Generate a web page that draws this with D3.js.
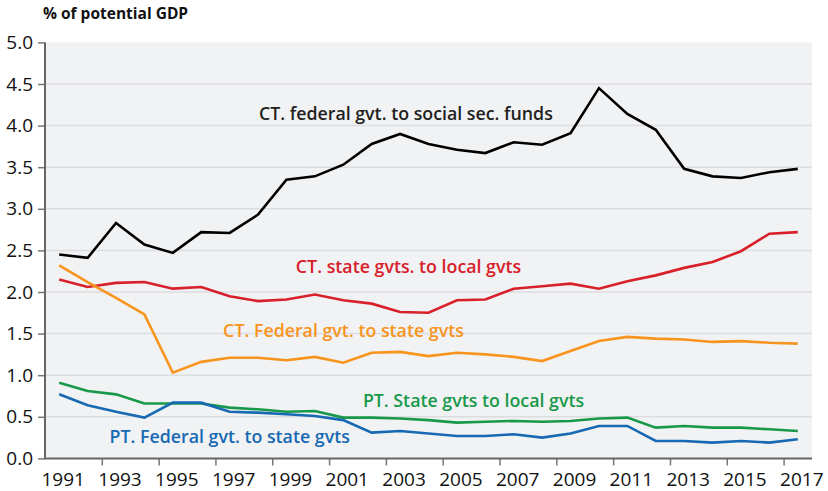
<!DOCTYPE html>
<html>
<head>
<meta charset="utf-8">
<title>Transfers</title>
<script src="https://d3js.org/d3.v7.min.js"></script>
<style>
  body { margin: 0; background: #fff; }
  svg { font-family: "Open Sans", sans-serif; }
</style>
</head>
<body>
<div id="chart"></div>
<script>
var years = d3.range(1991, 2018);

var ctSocialSec = [2.45, 2.41, 2.83, 2.57, 2.47, 2.72, 2.71, 2.93, 3.35, 3.39,
  3.53, 3.78, 3.90, 3.78, 3.71, 3.67, 3.80, 3.77, 3.91, 4.45,
  4.14, 3.95, 3.48, 3.39, 3.37, 3.44, 3.48];
var ctStateLocal = [2.15, 2.06, 2.11, 2.12, 2.04, 2.06, 1.95, 1.89, 1.91, 1.97,
  1.90, 1.86, 1.76, 1.75, 1.90, 1.91, 2.04, 2.07, 2.10, 2.04,
  2.13, 2.20, 2.29, 2.36, 2.49, 2.70, 2.72];
var ctFedState = [2.32, 2.12, 1.93, 1.73, 1.03, 1.16, 1.21, 1.21, 1.18, 1.22,
  1.15, 1.27, 1.28, 1.23, 1.27, 1.25, 1.22, 1.17, 1.29, 1.41,
  1.46, 1.44, 1.43, 1.40, 1.41, 1.39, 1.38];
var ptStateLocal = [0.91, 0.81, 0.77, 0.66, 0.66, 0.66, 0.61, 0.59, 0.56, 0.57,
  0.49, 0.49, 0.48, 0.46, 0.43, 0.44, 0.45, 0.44, 0.45, 0.48,
  0.49, 0.37, 0.39, 0.37, 0.37, 0.35, 0.33];
var ptFedState = [0.77, 0.64, 0.56, 0.49, 0.67, 0.67, 0.56, 0.55, 0.53, 0.51,
  0.46, 0.31, 0.33, 0.30, 0.27, 0.27, 0.29, 0.25, 0.30, 0.39,
  0.39, 0.21, 0.21, 0.19, 0.21, 0.19, 0.23];

var yTicks = [0, 0.5, 1, 1.5, 2, 2.5, 3, 3.5, 4, 4.5, 5];
var xLabelYears = [1991, 1993, 1995, 1997, 1999, 2001, 2003, 2005, 2007, 2009, 2011, 2013, 2015, 2017];
var xTickYears = [1992.5, 1994.5, 1996.5, 1998.5, 2000.5, 2002.5, 2004.5, 2006.5, 2008.5, 2010.5, 2012.5, 2014.5, 2016.5];

var series = [
  { name: "CT. federal gvt. to social sec. funds", values: ctSocialSec, color: "#000000", text: "#231f20", lx: 1998.03, ly: 4.07 },
  { name: "CT. state gvts. to local gvts", values: ctStateLocal, color: "#d7202a", text: "#d7202a", lx: 1999.33, ly: 2.23 },
  { name: "CT. Federal gvt. to state gvts", values: ctFedState, color: "#f7941d", text: "#f7941d", lx: 1996.77, ly: 1.46 },
  { name: "PT. State gvts to local gvts", values: ptStateLocal, color: "#18994a", text: "#18994a", lx: 2001.69, ly: 0.62 },
  { name: "PT. Federal gvt. to state gvts", values: ptFedState, color: "#1669b2", text: "#1669b2", lx: 1992.77, ly: 0.19 }
];

var W = 828, H = 491;
var plotLeft = 45, plotRight = 812, plotTop = 42.4, plotBottom = 458.4;

var svg = d3.select("#chart").append("svg")
  .attr("width", W)
  .attr("height", H);

var x = d3.scaleLinear().domain([1990.5, 2017.5]).range([plotLeft, plotRight]);
var y = d3.scaleLinear().domain([0, 5]).range([plotBottom, plotTop]);

// plot background
svg.append("rect")
  .attr("x", plotLeft).attr("y", plotTop)
  .attr("width", plotRight - plotLeft).attr("height", plotBottom - plotTop)
  .attr("fill", "#f1f2f4");

// gridlines
svg.append("g").selectAll("line")
  .data(yTicks.filter(function (d) { return d > 0 && d < 5; }))
  .enter().append("line")
  .attr("x1", plotLeft).attr("x2", plotRight)
  .attr("y1", function (d) { return y(d); })
  .attr("y2", function (d) { return y(d); })
  .attr("stroke", "#dcdde0")
  .attr("stroke-width", 1.5);

// y axis
var yAxis = svg.append("g")
  .attr("transform", "translate(" + plotLeft + ",0)")
  .call(d3.axisLeft(y).tickValues(yTicks).tickFormat(d3.format(".1f")).tickSize(7).tickPadding(5));
yAxis.select(".domain").remove();
yAxis.selectAll(".tick line").attr("stroke", "#777").attr("stroke-width", 1.5);
yAxis.selectAll("text")
  .attr("fill", "#111")
  .style("font-size", "19px")
  .style("font-family", "Open Sans, sans-serif");

// x axis ticks
var xAxis = svg.append("g")
  .attr("transform", "translate(0," + plotBottom + ")")
  .call(d3.axisBottom(x).tickValues(xTickYears).tickSize(7).tickFormat(""));
xAxis.select(".domain").remove();
xAxis.selectAll(".tick line").attr("stroke", "#777").attr("stroke-width", 1.5);

svg.append("g").selectAll("text")
  .data(xLabelYears)
  .enter().append("text")
  .attr("x", function (d) { return x(d) + 4; })
  .attr("y", 486)
  .attr("text-anchor", "middle")
  .attr("fill", "#111")
  .style("font-size", "19px")
  .text(function (d) { return d; });

// axis lines
svg.append("line")
  .attr("x1", plotLeft).attr("x2", plotLeft)
  .attr("y1", plotTop).attr("y2", plotBottom)
  .attr("stroke", "#666").attr("stroke-width", 2);
svg.append("line")
  .attr("x1", plotLeft - 1).attr("x2", plotRight)
  .attr("y1", plotBottom).attr("y2", plotBottom)
  .attr("stroke", "#666").attr("stroke-width", 2);

// lines
var line = d3.line()
  .x(function (d, i) { return x(years[i]); })
  .y(function (d) { return y(d); });

svg.append("g").selectAll("path")
  .data(series)
  .enter().append("path")
  .attr("d", function (d) { return line(d.values); })
  .attr("fill", "none")
  .attr("stroke", function (d) { return d.color; })
  .attr("stroke-width", 2.6)
  .attr("stroke-linejoin", "miter");

// series labels
svg.append("g").selectAll("text")
  .data(series)
  .enter().append("text")
  .attr("x", function (d) { return x(d.lx); })
  .attr("y", function (d) { return y(d.ly); })
  .attr("fill", function (d) { return d.text; })
  .style("font-size", "17.8px")
  .style("font-weight", 600)
  .text(function (d) { return d.name; });

// title
svg.append("text")
  .attr("x", 43)
  .attr("y", 19)
  .attr("fill", "#111")
  .style("font-size", "15.5px")
  .style("font-weight", 700)
  .text("% of potential GDP");
</script>
</body>
</html>
